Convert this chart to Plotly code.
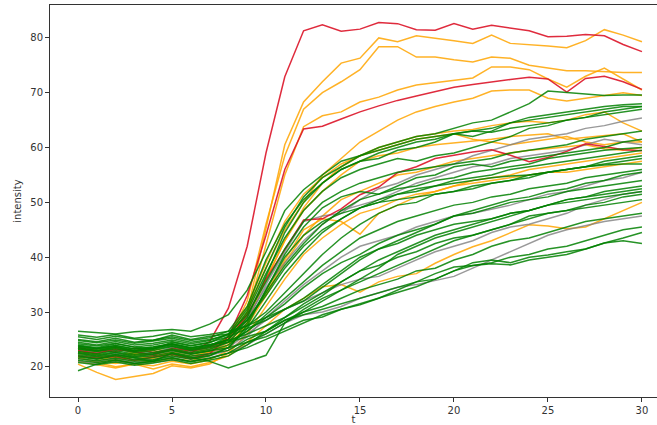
import plotly.graph_objects as go

t = list(range(31))

# red series
red_1 = [23.5,23.0,22.8,23.4,22.6,23.1,22.5,24.6,30.7,42.0,59.0,72.9,81.3,82.4,81.2,81.6,82.8,82.6,81.5,81.4,82.6,81.6,82.3,81.8,81.3,80.2,80.3,80.6,80.4,78.8,77.5]
red_2 = [22.0,21.6,21.9,21.2,21.8,22.3,21.5,22.4,25.5,33.0,44.0,56.0,63.4,63.9,65.2,66.5,67.6,68.6,69.4,70.2,71.0,71.5,72.0,72.4,72.8,72.5,70.1,72.6,73.0,72.0,70.6]
red_3 = [23.0,22.5,23.2,22.8,22.1,23.4,22.9,23.6,25.0,29.5,36.0,41.5,46.8,47.0,48.8,51.4,52.8,55.4,56.5,58.0,58.6,59.2,59.6,58.6,57.4,58.2,59.3,60.7,60.2,59.6,59.4]

# orange series
orange_1 = [22.5,22.0,21.6,22.3,21.8,22.6,21.9,22.8,24.5,30.0,45.0,60.5,68.3,72.0,75.4,76.3,80.0,79.3,80.4,80.0,79.5,79.0,80.5,79.0,78.8,78.5,78.2,79.5,81.5,80.5,79.3]
orange_2 = [23.2,22.8,23.4,22.6,23.0,22.2,23.1,22.7,25.0,32.0,46.0,58.5,67.0,70.0,72.0,74.2,78.4,78.4,76.5,76.5,76.0,75.6,76.5,76.3,75.0,74.5,74.0,74.0,73.8,73.7,73.7]
orange_3 = [21.5,21.0,20.6,21.2,20.8,21.5,21.1,22.0,24.0,29.5,42.0,55.0,63.8,65.8,66.5,68.3,69.2,70.5,71.4,71.8,72.2,72.7,74.7,74.7,74.2,72.5,71.0,73.0,74.5,72.5,70.5]
orange_4 = [22.8,22.2,21.7,22.5,21.9,22.8,22.3,23.0,25.5,30.0,38.0,45.0,50.0,55.0,58.0,61.0,63.0,65.0,66.5,67.5,68.3,69.0,70.3,70.5,70.5,69.0,68.5,69.0,69.5,70.0,69.5]
orange_5 = [23.0,22.4,22.0,22.7,22.2,23.0,22.5,23.2,25.0,29.0,36.0,43.0,49.0,53.5,56.5,58.5,60.0,61.0,62.0,62.5,63.0,63.3,64.0,64.5,64.8,64.5,65.0,66.0,66.5,64.5,63.0]
orange_6 = [21.0,20.4,19.8,20.5,20.2,21.0,20.5,21.3,23.0,28.0,36.0,43.0,48.5,52.0,55.0,57.5,58.5,59.0,60.0,60.5,60.8,61.2,61.5,62.0,62.3,62.5,61.5,61.8,62.2,62.5,61.0]
orange_7 = [22.0,21.5,21.0,21.8,21.3,22.0,21.6,22.5,24.0,27.5,33.0,39.0,44.0,47.5,50.5,52.0,53.5,55.0,55.5,56.5,57.5,58.0,58.5,59.0,59.5,59.8,60.2,60.5,59.8,59.5,60.0]
orange_8 = [22.5,21.8,21.2,22.0,21.5,22.4,21.9,22.6,24.5,28.0,33.5,39.5,45.0,47.0,46.5,44.2,48.0,49.5,51.0,52.0,53.0,54.0,54.5,55.0,56.0,56.5,57.0,57.5,58.0,58.5,59.0]
orange_9 = [21.8,20.8,20.0,20.5,19.6,20.5,20.0,20.8,22.0,24.5,27.5,30.5,32.5,34.6,35.0,33.6,35.5,36.5,37.0,38.9,40.5,41.9,43.0,44.5,45.9,45.7,45.2,45.5,47.0,48.6,50.0]
orange_10 = [20.5,19.0,17.7,18.2,18.8,20.2,19.8,20.5,22.5,26.0,31.0,36.0,40.5,43.5,46.0,48.0,49.0,50.5,51.5,52.0,53.0,53.5,54.0,54.5,55.0,55.5,55.5,56.0,56.5,57.0,57.5]
orange_11 = [23.5,23.0,23.6,22.9,23.3,22.7,23.4,23.0,25.5,31.0,39.0,46.5,51.5,54.5,57.0,58.5,59.5,60.5,61.5,62.0,62.5,61.5,61.0,60.5,61.0,61.5,62.0,61.0,60.5,61.0,61.0]

# gray series
gray_1 = [22.5,22.0,22.5,21.8,22.2,22.9,22.3,23.0,24.5,28.5,35.0,41.0,46.5,47.5,48.0,50.5,52.5,53.5,55.0,56.0,57.0,58.5,59.5,60.5,61.5,62.0,62.5,63.5,64.0,64.8,65.4]
gray_2 = [23.0,22.6,23.2,22.7,22.4,23.6,22.9,23.5,25.0,29.0,34.5,39.0,43.0,46.0,48.5,49.5,50.5,52.0,53.5,54.5,55.5,56.5,57.0,58.0,58.5,59.0,59.5,60.5,61.5,61.0,60.5]
gray_3 = [21.5,21.0,21.5,20.8,21.3,21.9,21.5,22.0,23.0,25.5,29.0,32.0,35.0,37.5,40.0,42.0,43.0,44.0,45.5,46.5,47.5,48.0,48.8,49.5,50.5,51.5,52.0,53.0,54.0,54.5,55.5]
gray_4 = [22.0,21.5,22.2,21.7,21.2,22.4,21.8,22.5,23.5,26.0,28.5,30.5,32.0,33.5,35.0,36.0,36.5,38.0,39.5,41.0,42.0,43.0,44.5,45.5,46.0,47.0,48.0,49.5,50.5,51.5,52.0]
gray_5 = [21.0,20.6,21.0,20.5,20.8,21.3,21.0,21.6,22.5,24.0,26.0,28.0,29.5,30.0,31.0,32.5,33.5,34.5,35.0,35.8,36.5,38.0,39.5,41.0,42.5,44.0,45.0,45.8,46.5,47.0,47.5]

# green series
green_1 = [26.5,26.3,26.0,26.4,26.6,26.8,26.5,27.8,29.5,34.0,41.0,48.5,52.3,55.0,57.5,58.5,59.5,60.5,61.5,62.0,62.5,63.0,62.8,63.5,64.0,64.5,65.0,65.5,66.0,66.5,67.0]
green_2 = [24.0,23.5,24.2,23.6,23.2,24.5,23.8,24.4,26.0,30.5,38.0,45.5,51.0,54.5,56.5,58.5,60.0,61.0,62.0,62.5,63.5,64.5,65.0,66.5,68.0,70.3,70.0,69.8,69.5,69.6,69.6]
green_3 = [25.0,24.6,25.2,24.5,24.9,25.5,24.8,25.3,26.5,31.0,39.5,46.0,50.5,53.5,56.0,57.5,59.0,60.0,61.0,61.5,62.5,62.0,63.0,64.5,65.5,66.0,66.5,67.0,67.5,67.8,68.0]
green_4 = [23.5,23.0,23.6,22.9,23.4,24.0,23.2,23.8,25.5,30.0,37.0,43.5,48.5,52.0,54.5,56.0,57.0,58.0,57.5,58.5,59.0,60.0,61.0,62.0,63.5,64.0,65.0,65.5,66.5,67.0,67.5]
green_5 = [24.5,24.0,24.6,24.0,24.3,24.9,24.2,24.8,26.0,29.5,35.5,41.5,46.5,50.0,52.0,53.5,54.5,55.5,56.0,56.5,57.0,57.5,58.0,59.0,59.5,60.0,60.5,61.5,62.0,62.5,63.0]
green_6 = [22.8,22.4,23.0,22.3,22.6,23.3,22.6,23.2,24.5,28.0,34.0,40.5,45.5,49.0,51.0,52.0,51.5,53.0,54.5,55.0,56.5,57.0,56.5,57.5,58.0,58.5,59.0,59.5,60.0,61.0,61.5]
green_7 = [23.8,23.3,23.9,23.2,23.6,24.2,23.5,24.0,25.0,28.5,33.5,38.5,42.5,46.0,48.5,50.5,51.5,52.5,53.0,54.0,54.5,55.5,56.0,56.5,57.0,58.0,58.5,59.0,59.5,59.8,60.0]
green_8 = [21.8,21.4,22.0,21.3,21.7,22.4,21.6,22.1,23.5,27.0,32.0,37.0,41.0,44.5,47.0,49.0,50.0,51.5,52.0,53.0,54.0,54.5,55.0,56.0,56.5,57.0,57.5,58.0,58.5,59.0,59.5]
green_9 = [25.5,25.0,25.6,25.1,24.8,25.8,25.0,25.6,26.0,27.5,30.0,33.5,37.0,40.5,43.5,46.0,48.0,49.5,50.0,51.5,52.0,53.0,53.5,54.0,55.0,55.5,56.0,56.5,57.0,57.5,58.0]
green_10 = [22.5,22.0,22.6,21.9,22.3,23.0,22.3,22.9,24.0,26.5,29.5,32.5,35.5,38.5,41.0,43.5,45.0,46.5,47.5,48.5,49.5,50.0,51.0,51.5,52.5,53.0,53.5,54.5,55.0,55.5,56.0]
green_11 = [24.2,23.8,24.3,23.6,24.0,24.6,23.9,24.5,25.5,27.0,28.5,30.5,32.0,34.5,37.0,39.5,41.5,43.0,44.5,46.0,47.5,48.5,49.5,50.5,51.0,52.0,52.5,53.5,54.0,55.0,55.5]
green_12 = [23.2,22.8,23.3,22.6,23.0,23.7,23.0,23.5,24.5,26.5,29.0,31.5,34.5,37.0,39.0,40.5,42.5,44.0,45.0,46.0,47.5,48.0,49.0,50.0,50.5,51.0,52.0,52.5,53.0,53.5,54.0]
green_13 = [20.8,20.4,20.9,20.3,20.7,21.3,20.6,21.2,22.0,24.0,26.5,29.0,31.5,33.5,35.5,37.5,39.5,41.0,42.5,44.0,45.0,46.0,47.0,48.0,48.5,49.5,50.5,51.0,52.0,52.5,53.0]
green_14 = [22.0,21.5,22.2,21.6,21.0,22.5,21.8,21.0,19.8,21.0,22.1,28.0,30.5,32.5,34.0,36.0,38.0,40.5,42.0,43.5,44.5,45.5,46.5,47.5,48.5,49.5,50.5,51.0,51.5,52.0,52.5]
green_15 = [19.3,20.5,21.2,20.6,21.0,21.6,20.9,21.5,22.5,24.5,26.0,28.0,30.0,32.0,34.0,35.5,37.0,38.5,40.0,41.5,43.0,44.0,45.0,46.0,47.0,48.0,48.5,49.5,50.0,51.0,51.5]
green_16 = [23.6,23.2,23.7,23.0,23.4,24.1,23.4,24.0,24.8,26.0,27.5,29.0,31.0,33.0,35.5,37.5,38.5,40.0,41.0,42.5,43.5,44.0,45.0,46.0,47.5,48.0,48.5,49.0,49.5,50.0,50.5]
green_17 = [22.2,21.8,22.3,21.7,22.0,22.6,22.0,22.4,23.0,25.0,26.5,28.5,30.0,31.0,32.5,34.0,35.0,36.0,37.5,38.0,39.5,40.5,42.0,43.0,43.5,44.5,45.5,46.5,47.0,47.5,48.0]
green_18 = [21.2,20.8,21.3,20.6,21.0,21.7,21.0,21.6,22.5,23.5,25.0,26.5,28.0,29.5,30.5,31.3,32.5,34.0,35.5,36.0,37.5,38.5,39.0,40.0,40.5,41.5,42.0,43.0,44.0,45.0,45.5]
green_19 = [23.8,23.4,23.9,23.3,23.6,24.2,23.5,24.1,24.5,25.5,26.5,28.5,29.5,30.5,31.5,32.5,33.5,34.6,35.5,37.0,38.2,38.5,38.8,38.6,39.5,40.0,40.5,41.5,42.6,43.5,44.5]
green_20 = [22.6,22.2,22.7,22.1,22.4,23.1,22.4,22.9,23.5,24.5,25.5,27.0,28.5,29.1,30.5,31.5,32.5,33.5,34.6,36.0,37.5,39.0,39.5,39.0,40.0,40.4,41.0,41.5,42.6,43.0,42.5]
green_21 = [25.8,25.4,25.9,25.2,25.6,26.2,25.5,25.9,26.5,27.5,29.0,30.5,32.5,35.0,37.5,40.0,41.5,42.5,44.0,45.0,46.0,46.5,47.0,48.0,48.5,49.5,50.0,50.5,51.0,51.5,52.0]
green_22 = [24.8,24.4,24.9,24.3,24.7,25.2,24.5,25.0,25.8,28.5,33.0,38.0,42.0,45.0,47.0,49.0,50.5,51.5,52.5,53.0,53.5,54.0,54.5,54.8,55.0,55.5,56.0,56.5,56.8,57.0,57.0]
green_23 = [23.3,22.9,23.5,22.8,23.2,23.8,23.1,23.7,25.0,29.0,36.5,44.5,50.0,53.5,56.0,57.5,58.0,59.5,60.0,61.0,62.5,63.0,63.5,64.5,65.0,65.5,66.0,66.5,67.0,67.5,67.5]
green_24 = [21.5,21.1,21.6,21.0,21.3,22.0,21.4,22.0,23.5,27.5,34.0,40.0,44.0,46.5,48.0,49.0,50.0,50.5,51.0,51.5,52.0,52.5,53.5,54.0,54.5,55.5,56.0,56.5,57.5,58.0,58.5]

oranges = [orange_1, orange_2, orange_3, orange_4, orange_5, orange_6, orange_7, orange_8, orange_9, orange_10, orange_11]
grays = [gray_1, gray_2, gray_3, gray_4, gray_5]
reds = [red_1, red_2, red_3]
greens = [green_1, green_2, green_3, green_4, green_5, green_6, green_7, green_8, green_9, green_10, green_11, green_12,
          green_13, green_14, green_15, green_16, green_17, green_18, green_19, green_20, green_21, green_22, green_23, green_24]

groups = [
    (oranges, "rgba(255,165,0,0.85)"),
    (grays, "rgba(128,128,128,0.8)"),
    (reds, "rgba(220,20,40,0.9)"),
    (greens, "rgba(0,128,0,0.85)"),
]

fig = go.Figure()
for series_list, color in groups:
    for ys in series_list:
        fig.add_trace(go.Scatter(x=t, y=ys, mode="lines",
                                 line=dict(color=color, width=1.5),
                                 showlegend=False, hoverinfo="skip"))

axis_font = dict(family="DejaVu Sans", size=10, color="#333333")
fig.update_layout(
    width=657, height=425,
    margin=dict(l=50, r=0, t=5, b=28),
    paper_bgcolor="white", plot_bgcolor="white",
    showlegend=False,
    font=axis_font,
)
fig.update_xaxes(
    range=[-1.49, 30.8], tickvals=[0, 5, 10, 15, 20, 25, 30],
    showgrid=False, zeroline=False,
    showline=True, linecolor="#333333", linewidth=1, mirror=True,
    ticks="outside", ticklen=4, tickcolor="#333333",
    tickfont=axis_font,
    title=dict(text="t", font=axis_font, standoff=2),
    automargin=False,
)
fig.update_yaxes(
    range=[14.5, 86.0], tickvals=[20, 30, 40, 50, 60, 70, 80],
    showgrid=False, zeroline=False,
    showline=True, linecolor="#333333", linewidth=1,
    ticks="outside", ticklen=4, tickcolor="#333333",
    tickfont=axis_font,
    title=dict(text="intensity", font=axis_font, standoff=6),
    automargin=False,
)

fig.write_html("out.html", config={"displayModeBar": False},
               post_script="document.body.style.margin='0';document.body.style.overflow='hidden';")
